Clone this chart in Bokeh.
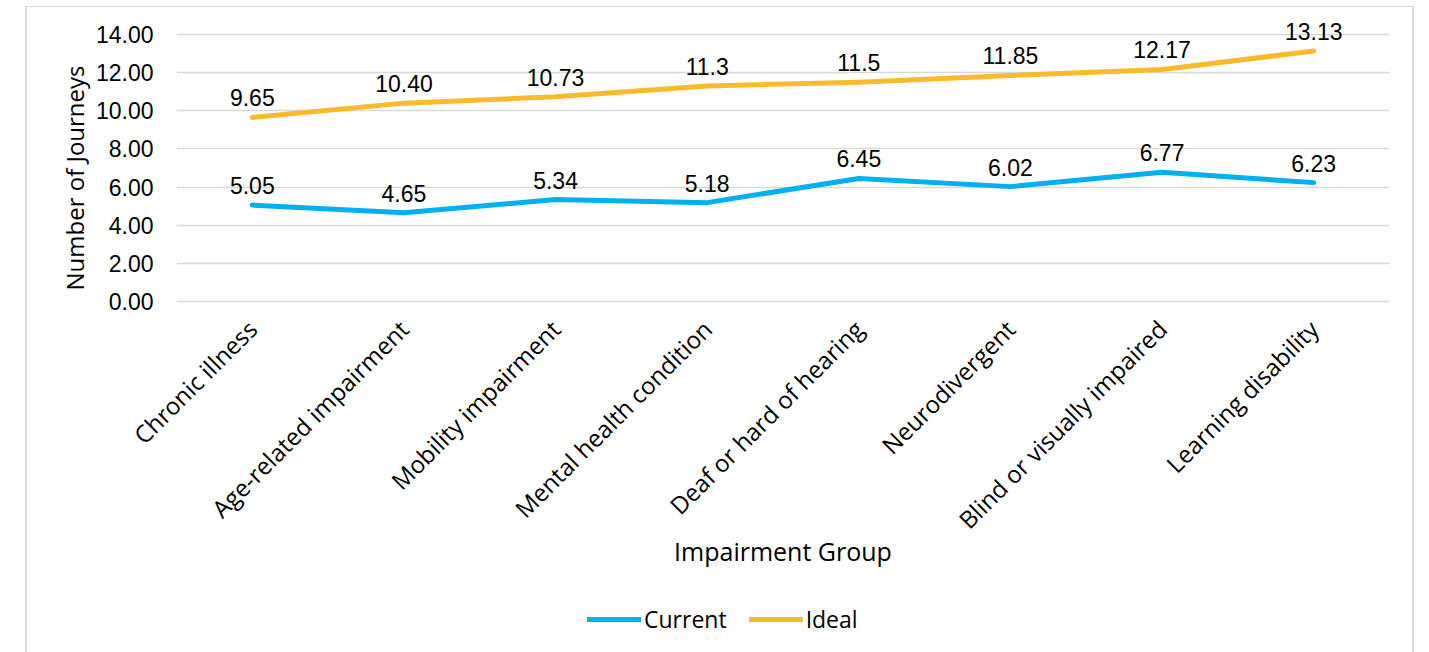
from math import pi

from bokeh.plotting import figure
from bokeh.layouts import column
from bokeh.models import (ColumnDataSource, LabelSet, Legend, LegendItem,
                          FixedTicker, NumeralTickFormatter)
from bokeh.core.properties import value
from bokeh.embed import file_html
from bokeh.resources import INLINE

# Average number of journeys per impairment group
groups = [
    "Chronic illness",
    "Age-related impairment",
    "Mobility impairment",
    "Mental health condition",
    "Deaf or hard of hearing",
    "Neurodivergent",
    "Blind or visually impaired",
    "Learning disability",
]
current_text = ["5.05", "4.65", "5.34", "5.18", "6.45", "6.02", "6.77", "6.23"]
ideal_text = ["9.65", "10.40", "10.73", "11.3", "11.5", "11.85", "12.17", "13.13"]
current = [float(t) for t in current_text]
ideal = [float(t) for t in ideal_text]
y_ticks = [0, 2, 4, 6, 8, 10, 12, 14]
series_names = ["Current", "Ideal"]

BLUE = "#00B0F0"
GOLD = "#FBBA2B"
GRID = "#D9D9D9"
NUM_FONT = "Liberation Sans"
FONT = "Open Sans"
EDGE = "2px solid #D9D9D9"

src = ColumnDataSource(dict(group=groups, current=current, ideal=ideal,
                            current_text=current_text, ideal_text=ideal_text))

# ---- main chart -------------------------------------------------------
# the value range runs a little past 0..14 so the frame leaves room for
# the top data label and keeps the axis title centred where it belongs
p = figure(
    x_range=groups, y_range=(-2.105, 15.05),
    width=1389, height=584,
    min_border_left=149, min_border_right=27,
    min_border_top=7, min_border_bottom=250,
    output_backend="svg", toolbar_location=None,
    background_fill_color="white", border_fill_color="white",
)
p.styles = {"border-top": "1px solid #D9D9D9",
            "border-left": EDGE, "border-right": EDGE}
p.outline_line_color = None

line_style = dict(line_width=5, line_cap="round", line_join="round")
p.line("group", "current", source=src, line_color=BLUE, **line_style)
p.line("group", "ideal", source=src, line_color=GOLD, **line_style)

for col, txt in (("current", "current_text"), ("ideal", "ideal_text")):
    p.add_layout(LabelSet(x="group", y=col, text=txt, source=src,
                          y_offset=11, text_align="center",
                          text_baseline="bottom", text_font=value(NUM_FONT),
                          text_font_size="23px", text_color="#000000"))

p.yaxis.ticker = FixedTicker(ticks=y_ticks)
p.yaxis.formatter = NumeralTickFormatter(format="0.00")
p.yaxis.axis_line_color = None
p.yaxis.major_tick_line_color = None
p.yaxis.minor_tick_line_color = None
p.yaxis.major_label_text_font = NUM_FONT
p.yaxis.major_label_text_font_size = "23px"
p.yaxis.major_label_text_color = "#000000"
p.yaxis.major_label_standoff = 17
p.yaxis.axis_label = "Number of Journeys"
p.yaxis.axis_label_text_font = FONT
p.yaxis.axis_label_text_font_style = "normal"
p.yaxis.axis_label_text_font_size = "24px"
p.yaxis.axis_label_text_color = "#000000"
p.yaxis.axis_label_standoff = 2

p.xaxis.axis_line_color = None
p.xaxis.major_tick_line_color = None
p.xaxis.minor_tick_line_color = None
p.xaxis.major_label_orientation = pi / 4
p.xaxis.major_label_text_font = FONT
p.xaxis.major_label_text_font_size = "24px"
p.xaxis.major_label_text_color = "#000000"
p.xaxis.major_label_standoff = -23
p.xaxis.axis_label = "Impairment Group"
p.xaxis.axis_label_text_font = FONT
p.xaxis.axis_label_text_font_style = "normal"
p.xaxis.axis_label_text_font_size = "25px"
p.xaxis.axis_label_text_color = "#000000"
p.xaxis.axis_label_standoff = -16

p.xgrid.grid_line_color = None
p.ygrid.grid_line_color = GRID
p.ygrid.grid_line_width = 1.5

# ---- legend strip -----------------------------------------------------
leg = figure(
    width=1389, height=62, x_range=(0, 1), y_range=(0, 1),
    x_axis_type=None, y_axis_type=None,
    min_border=0, output_backend="svg", toolbar_location=None,
    background_fill_color="white", border_fill_color="white",
)
leg.styles = {"border-left": EDGE, "border-right": EDGE}
leg.outline_line_color = None
leg.grid.visible = False
nan = float("nan")
k_cur = leg.line(x=[nan], y=[nan], line_color=BLUE, **line_style)
k_ide = leg.line(x=[nan], y=[nan], line_color=GOLD, **line_style)

legend = Legend(
    items=[LegendItem(label=series_names[0], renderers=[k_cur], index=0),
           LegendItem(label=series_names[1], renderers=[k_ide], index=0)],
    orientation="horizontal", location=(411, 17),
    glyph_width=54, glyph_height=24, label_standoff=3, spacing=22,
    padding=0, margin=0, border_line_color=None,
    background_fill_alpha=0,
    label_text_font=FONT, label_text_font_size="23px",
    label_text_color="#000000",
)
leg.add_layout(legend, "center")

page = column(p, leg, spacing=0, margin=(6, 0, 0, 25))

open("out.html", "w").write(file_html(page, INLINE))
